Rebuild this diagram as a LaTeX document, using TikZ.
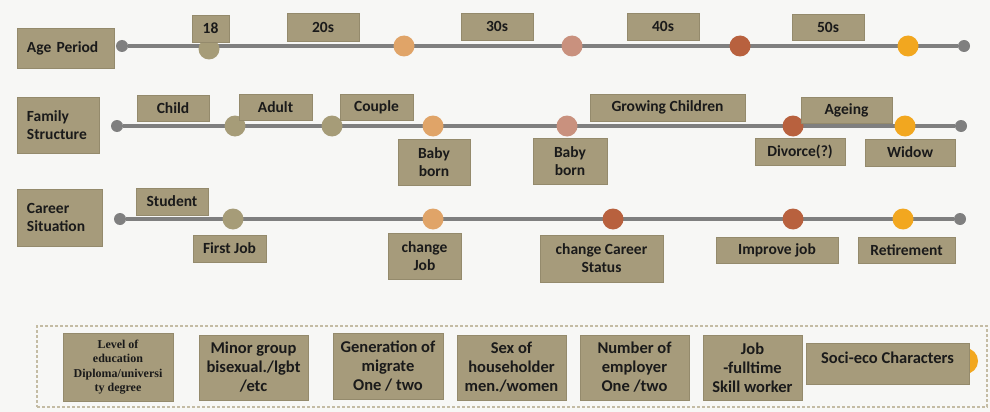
\documentclass[tikz,border=0pt]{standalone}
\usepackage{fontspec}
\setmainfont{Carlito}
\newfontfamily\edufont{Liberation Serif}
\definecolor{bg}{HTML}{F7F7F5}
\definecolor{boxc}{HTML}{A69B7B}
\definecolor{boxd}{HTML}{948A6C}
\definecolor{txt}{HTML}{1A1A1A}
\definecolor{linec}{HTML}{7F7F7F}
\definecolor{olive}{HTML}{A69C78}
\definecolor{tan}{HTML}{E0A468}
\definecolor{pinkb}{HTML}{C9917E}
\definecolor{rust}{HTML}{B8613E}
\definecolor{gold}{HTML}{F2A71F}
\definecolor{frame}{HTML}{C4BCA4}
\begin{document}
\begin{tikzpicture}[x=1pt,y=-1pt,
  box/.style={fill=boxc, draw=boxd, line width=0.5pt, inner sep=0pt, align=center, text=txt, font=\bfseries\fontsize{15.5}{18}\selectfont},
  bbox/.style={box, font=\bfseries\fontsize{16.5}{19}\selectfont},
  lbl/.style={box, align=left, inner xsep=10pt, inner ysep=0pt},
  dot/.style={circle, inner sep=0pt, minimum size=21pt},
  enddot/.style={circle, fill=linec, inner sep=0pt, minimum size=12pt},
  tl/.style={draw=linec, line width=4pt}]
\useasboundingbox (0,0) rectangle (990,412);
\fill[bg] (0,0) rectangle (990,412);

% ---------- Row 1: Age Period ----------
\node[lbl, text width=77pt, minimum height=40pt] (agelbl) at (65.5,48) {Age Period};
\node[enddot] (a0) at (122,46) {};
\node[enddot] (a6) at (964,46) {};
\draw[tl] (a0) -- (a6);
\node[dot, fill=olive] (a1) at (209,49) {};
\node[dot, fill=tan] (a2) at (404,46) {};
\node[dot, fill=pinkb] (a3) at (572,46) {};
\node[dot, fill=rust] (a4) at (740,46) {};
\node[dot, fill=gold] (a5) at (908,46) {};
\node[box, minimum width=37pt, minimum height=27pt] (b18) at (210.5,28.5) {18};
\node[box, minimum width=72pt, minimum height=28pt] (b20) at (323,27) {20s};
\node[box, minimum width=72pt, minimum height=27pt] (b30) at (497,26.5) {30s};
\node[box, minimum width=72pt, minimum height=27pt] (b40) at (663,26.5) {40s};
\node[box, minimum width=72pt, minimum height=26pt] (b50) at (828,27) {50s};

% ---------- Row 2: Family Structure ----------
\node[lbl, text width=62pt, minimum height=56pt] (famlbl) at (58,125) {Family\\Structure};
\node[enddot] (f0) at (117,126) {};
\node[enddot] (f7) at (961,126) {};
\draw[tl] (f0) -- (f7);
\node[dot, fill=olive] (f1) at (235,126) {};
\node[dot, fill=olive] (f2) at (332,126) {};
\node[dot, fill=tan] (f3) at (433,126) {};
\node[dot, fill=pinkb] (f4) at (567,126) {};
\node[dot, fill=rust] (f5) at (793,126) {};
\node[dot, fill=gold] (f6) at (905,126) {};
\node[box, minimum width=72pt, minimum height=26pt] (child) at (173,108) {Child};
\node[box, minimum width=73pt, minimum height=26pt] (adult) at (275.5,107) {Adult};
\node[box, minimum width=73pt, minimum height=26pt] (couple) at (376.5,107) {Couple};
\node[box, minimum width=72pt, minimum height=46pt] (baby1) at (434,162) {Baby\\born};
\node[box, minimum width=74pt, minimum height=46pt] (baby2) at (570,161) {Baby\\born};
\node[box, minimum width=155pt, minimum height=27pt] (grow) at (667.5,107.5) {Growing Children};
\node[box, minimum width=90pt, minimum height=27pt] (divorce) at (800,151.5) {Divorce(?)};
\node[box, minimum width=91pt, minimum height=26pt] (ageing) at (846.5,110) {Ageing};
\node[box, minimum width=90pt, minimum height=27pt] (widow) at (910,152.5) {Widow};

% ---------- Row 3: Career Situation ----------
\node[lbl, text width=65pt, minimum height=57pt] (carlbl) at (59.5,217.5) {Career\\Situation};
\node[enddot] (c0) at (120,219) {};
\node[enddot] (c6) at (960,219) {};
\draw[tl] (c0) -- (c6);
\node[dot, fill=olive] (c1) at (233,219) {};
\node[dot, fill=tan] (c2) at (433,219) {};
\node[dot, fill=rust] (c3) at (613,219) {};
\node[dot, fill=rust] (c4) at (793,219) {};
\node[dot, fill=gold] (c5) at (903,219) {};
\node[box, minimum width=72pt, minimum height=27pt] (student) at (172,201.5) {Student};
\node[box, minimum width=73pt, minimum height=27pt] (firstjob) at (229.5,248.5) {First Job};
\node[box, minimum width=73pt, minimum height=46pt] (chjob) at (424.5,256) {change\\Job};
\node[box, minimum width=123pt, minimum height=47pt] (chcar) at (601.5,258.5) {change Career\\Status};
\node[box, minimum width=122pt, minimum height=26pt] (improve) at (777,250) {Improve job};
\node[box, minimum width=97pt, minimum height=26pt] (retire) at (906.5,250) {Retirement};

% ---------- Bottom: characteristics ----------
\node[draw=frame, line width=1.2pt, dash pattern=on 3pt off 2pt, minimum width=950pt, minimum height=81pt, inner sep=0pt] (frm) at (512,366.5) {};
\node[box, font=\edufont\bfseries\fontsize{12}{14.5}\selectfont, minimum width=110pt, minimum height=68pt] (edu) at (118,367) {Level of\\education\\Diploma/universi\\ty degree};
\node[bbox, minimum width=109pt, minimum height=65pt] (minor) at (253.5,367.5) {Minor group\\bisexual./lgbt\\/etc};
\node[bbox, minimum width=110pt, minimum height=66pt] (gen) at (388,366) {Generation of\\migrate\\One / two};
\node[bbox, minimum width=109pt, minimum height=65pt] (sex) at (511.5,367.5) {Sex of\\householder\\men./women};
\node[bbox, minimum width=109pt, minimum height=65pt] (num) at (634.5,367.5) {Number of\\employer\\One /two};
\node[bbox, minimum width=99pt, minimum height=65pt] (job) at (752.5,367.5) {Job\\-fulltime\\Skill worker};
\node[dot, fill=gold, minimum size=26pt] (socidot) at (965,361) {};
\node[bbox, minimum width=163pt, minimum height=41pt, text depth=12pt] (soci) at (887.5,363.5) {Soci-eco Characters};
\end{tikzpicture}
\end{document}
